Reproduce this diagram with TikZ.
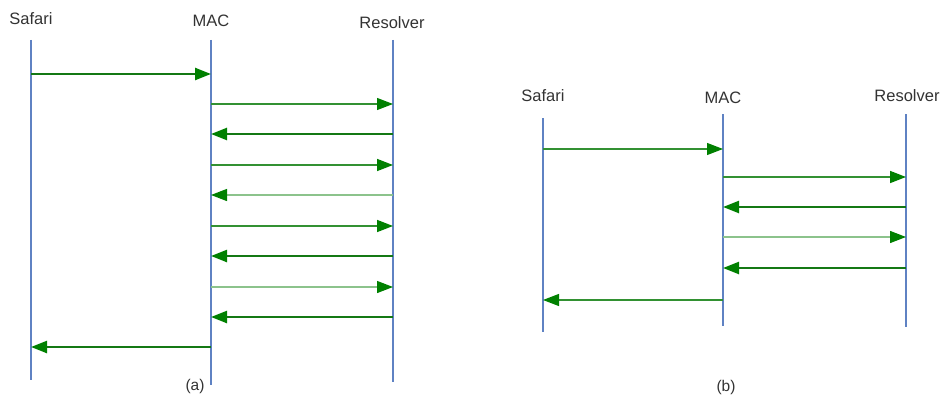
\documentclass[tikz,border=0pt]{standalone}
\usepackage{fontspec}
\setmainfont{Liberation Sans}
\usetikzlibrary{arrows.meta}
\definecolor{life}{RGB}{95,130,195}
\definecolor{msgdark}{RGB}{20,120,20}
\definecolor{msgmid}{RGB}{50,145,50}
\definecolor{msglight}{RGB}{140,195,140}
\definecolor{tipgreen}{RGB}{0,128,0}
\tikzset{
  lifeline/.style={draw=life, line width=1.3pt},
  actor/.style={font=\fontsize{16.5}{19}\selectfont, text=black!80, inner sep=0pt},
  caption/.style={font=\fontsize{15.5}{18}\selectfont, text=black!80, inner sep=0pt},
  msg/.style={-{Triangle[length=16pt,width=12pt,fill=tipgreen,color=tipgreen]}},
  heavy/.style={msg, draw=msgdark, line width=2.4pt},
  medium/.style={msg, draw=msgmid, line width=1.6pt},
  fine/.style={msg, draw=msgmid, line width=1.1pt},
  pale/.style={msg, draw=msglight, line width=1.3pt},
}
\begin{document}
\begin{tikzpicture}[x=1pt,y=-1pt]
\useasboundingbox (0,0) rectangle (940,396);

% ---- panel (a) ----
\node[actor] (aS) at (31,19) {Safari};
\node[actor] (aM) at (211,21) {MAC};
\node[actor] (aR) at (392,23) {Resolver};
\coordinate (aSt) at (31,40);  \coordinate (aSb) at (31,380);
\coordinate (aMt) at (211,40); \coordinate (aMb) at (211,385);
\coordinate (aRt) at (393,40); \coordinate (aRb) at (393,382);
\draw[lifeline] (aSt) -- (aSb);
\draw[lifeline] (aMt) -- (aMb);
\draw[lifeline] (aRt) -- (aRb);
\node[caption] (aCap) at (195,386) {(a)};

\draw[heavy]  (aSt |- 0,74)  -- (aMt |- 0,74);
\draw[fine]   (aMt |- 0,104) -- (aRt |- 0,104);
\draw[heavy]  (aRt |- 0,134) -- (aMt |- 0,134);
\draw[medium] (aMt |- 0,165) -- (aRt |- 0,165);
\draw[pale]   (aRt |- 0,195) -- (aMt |- 0,195);
\draw[medium] (aMt |- 0,226) -- (aRt |- 0,226);
\draw[heavy]  (aRt |- 0,256) -- (aMt |- 0,256);
\draw[pale]   (aMt |- 0,287) -- (aRt |- 0,287);
\draw[heavy]  (aRt |- 0,317) -- (aMt |- 0,317);
\draw[heavy]  (aMt |- 0,347) -- (aSt |- 0,347);

% ---- panel (b) ----
\node[actor] (bS) at (543,96) {Safari};
\node[actor] (bM) at (723,98) {MAC};
\node[actor] (bR) at (907,96) {Resolver};
\coordinate (bSt) at (543,118); \coordinate (bSb) at (543,332);
\coordinate (bMt) at (723,114); \coordinate (bMb) at (723,326);
\coordinate (bRt) at (906,114); \coordinate (bRb) at (906,327);
\draw[lifeline] (bSt) -- (bSb);
\draw[lifeline] (bMt) -- (bMb);
\draw[lifeline] (bRt) -- (bRb);
\node[caption] (bCap) at (726,387) {(b)};

\draw[fine]   (bSt |- 0,149) -- (bMt |- 0,149);
\draw[medium] (bMt |- 0,177) -- (bRt |- 0,177);
\draw[heavy]  (bRt |- 0,207) -- (bMt |- 0,207);
\draw[pale]   (bMt |- 0,237) -- (bRt |- 0,237);
\draw[heavy]  (bRt |- 0,268) -- (bMt |- 0,268);
\draw[fine]   (bMt |- 0,300) -- (bSt |- 0,300);
\end{tikzpicture}
\end{document}
